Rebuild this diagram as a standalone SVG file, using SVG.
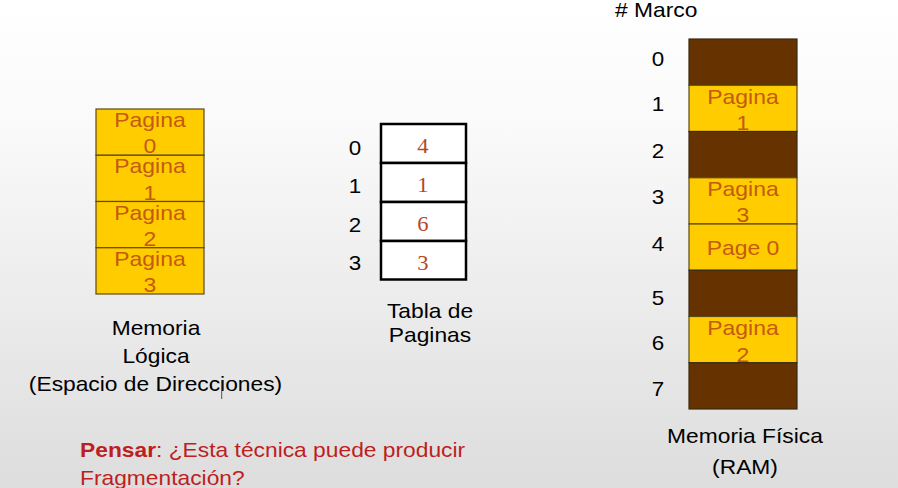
<svg xmlns="http://www.w3.org/2000/svg" width="898" height="488" viewBox="0 0 898 488">
<defs>
<linearGradient id="bg" x1="0" y1="0" x2="0" y2="1">
<stop offset="0" stop-color="#ffffff"/>
<stop offset="0.25" stop-color="#fafafa"/>
<stop offset="1" stop-color="#dddddd"/>
</linearGradient>
</defs>
<style>
text{font-family:"Liberation Sans",Arial,sans-serif;font-size:20px;fill:#000;}
.c{text-anchor:middle;}
.pg{fill:#C55A11;font-size:20.5px;}
.num{font-family:"Liberation Serif","Times New Roman",serif;fill:#B5472A;font-size:20px;}
.y{fill:#FFCC00;stroke:#5c4a14;stroke-width:1.2;}
.b{fill:#663300;stroke:#3a2a10;stroke-width:1.2;}
.t{fill:#ffffff;stroke:#000;stroke-width:2.5;}
.red{fill:#BE1E1E;}
</style>
<rect x="0" y="0" width="898" height="488" fill="url(#bg)"/>

<g id="logical-memory">
<rect class="y" x="96" y="109" width="108" height="46.25"/>
<rect class="y" x="96" y="155.25" width="108" height="46.25"/>
<rect class="y" x="96" y="201.5" width="108" height="46.25"/>
<rect class="y" x="96" y="247.75" width="108" height="46.25"/>
<text class="c pg" transform="translate(150,126.7) scale(1.12,1)">Pagina</text>
<text class="c pg" transform="translate(150,153.2) scale(1.12,1)">0</text>
<text class="c pg" transform="translate(150,173.2) scale(1.12,1)">Pagina</text>
<text class="c pg" transform="translate(150,199.7) scale(1.12,1)">1</text>
<text class="c pg" transform="translate(150,219.5) scale(1.12,1)">Pagina</text>
<text class="c pg" transform="translate(150,246) scale(1.12,1)">2</text>
<text class="c pg" transform="translate(150,265.8) scale(1.12,1)">Pagina</text>
<text class="c pg" transform="translate(150,292.3) scale(1.12,1)">3</text>
</g>

<g id="logical-label">
<text class="c" transform="translate(156,335) scale(1.14,1)">Memoria</text>
<text class="c" transform="translate(156,363) scale(1.14,1)">Lógica</text>
<text class="c" transform="translate(155.5,391) scale(1.14,1)">(Espacio de Direcciones)</text>
<line x1="221.7" y1="380" x2="221.7" y2="399" stroke="#555" stroke-width="1"/>
</g>

<g id="page-table">
<rect class="t" x="381" y="124" width="85" height="39"/>
<rect class="t" x="381" y="163" width="85" height="39"/>
<rect class="t" x="381" y="202" width="85" height="39"/>
<rect class="t" x="381" y="241" width="85" height="38.5"/>
<text class="c num" transform="translate(423,152.5) scale(1.13,1)">4</text>
<text class="c num" transform="translate(423,191.5) scale(1.13,1)">1</text>
<text class="c num" transform="translate(423,230.5) scale(1.13,1)">6</text>
<text class="c num" transform="translate(423,269.5) scale(1.13,1)">3</text>
<text class="c" transform="translate(355,155) scale(1.12,1)">0</text>
<text class="c" transform="translate(355,193) scale(1.12,1)">1</text>
<text class="c" transform="translate(355,232) scale(1.12,1)">2</text>
<text class="c" transform="translate(355,270) scale(1.12,1)">3</text>
<text class="c" transform="translate(430,318) scale(1.14,1)">Tabla de</text>
<text class="c" transform="translate(430,342) scale(1.14,1)">Paginas</text>
</g>

<g id="physical-memory">
<text transform="translate(615,17) scale(1.14,1)"># Marco</text>
<rect class="b" x="689" y="39" width="108" height="46.25"/>
<rect class="y" x="689" y="85.25" width="108" height="46.25"/>
<rect class="b" x="689" y="131.5" width="108" height="46.25"/>
<rect class="y" x="689" y="177.75" width="108" height="46.25"/>
<rect class="y" x="689" y="224" width="108" height="46.25"/>
<rect class="b" x="689" y="270.25" width="108" height="46.25"/>
<rect class="y" x="689" y="316.5" width="108" height="46.25"/>
<rect class="b" x="689" y="362.75" width="108" height="46.25"/>
<text class="c pg" transform="translate(743,104) scale(1.12,1)">Pagina</text>
<text class="c pg" transform="translate(743,130.3) scale(1.12,1)">1</text>
<text class="c pg" transform="translate(743,195.5) scale(1.12,1)">Pagina</text>
<text class="c pg" transform="translate(743,222) scale(1.12,1)">3</text>
<text class="c pg" transform="translate(743,255) scale(1.12,1)">Page 0</text>
<text class="c pg" transform="translate(743,335) scale(1.12,1)">Pagina</text>
<text class="c pg" transform="translate(743,361.5) scale(1.12,1)">2</text>
<text class="c" transform="translate(658,66) scale(1.12,1)">0</text>
<text class="c" transform="translate(658,111) scale(1.12,1)">1</text>
<text class="c" transform="translate(658,158) scale(1.12,1)">2</text>
<text class="c" transform="translate(658,204) scale(1.12,1)">3</text>
<text class="c" transform="translate(658,251) scale(1.12,1)">4</text>
<text class="c" transform="translate(658,305) scale(1.12,1)">5</text>
<text class="c" transform="translate(658,350) scale(1.12,1)">6</text>
<text class="c" transform="translate(658,396) scale(1.12,1)">7</text>
<text class="c" transform="translate(745,443) scale(1.14,1)">Memoria Física</text>
<text class="c" transform="translate(745,474) scale(1.14,1)">(RAM)</text>
</g>

<g id="question">
<text class="red" transform="translate(80,457) scale(1.14,1)"><tspan font-weight="bold">Pensar</tspan>: ¿Esta técnica puede producir</text>
<text class="red" transform="translate(80,485) scale(1.14,1)">Fragmentación?</text>
</g>
</svg>
